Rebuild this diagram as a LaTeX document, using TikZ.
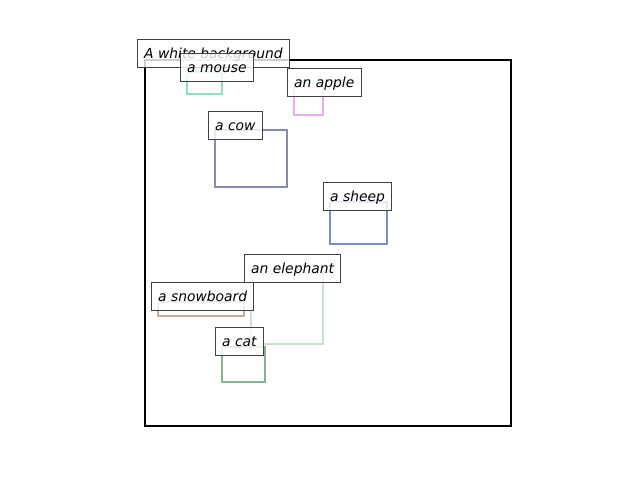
\documentclass[tikz,border=0pt]{standalone}
\usepackage{fontspec}
\setmainfont{DejaVu Sans}
\begin{document}
\begin{tikzpicture}[x=0.75pt,y=-0.75pt,
  lbl/.style={draw=black!75, line width=0.75pt, fill=white, fill opacity=0.8, text opacity=1,
    font=\fontsize{10.4}{12}\selectfont\itshape, anchor=south west,
    inner xsep=5pt, inner ysep=4.3pt, text height=9.7pt, text depth=2.4pt},
  obj/.style={line width=2.1pt},
  frame/.style={draw=black, line width=1.5pt}]
\useasboundingbox (0,0) rectangle (640,480);
\definecolor{cmouse}{RGB}{140,222,196}
\definecolor{capple}{RGB}{232,172,236}
\definecolor{ccow}{RGB}{136,140,170}
\definecolor{csheep}{RGB}{116,146,196}
\definecolor{celeph}{RGB}{202,226,204}
\definecolor{csnow}{RGB}{196,172,150}
\definecolor{ccat}{RGB}{130,180,146}
\node[frame, minimum width=366*0.75pt, minimum height=366*0.75pt, inner sep=0pt, anchor=north west] (bg) at (144,59) {};
\draw[obj, cmouse] (187,72) rectangle (222,94) coordinate (mouse);
\draw[obj, capple] (294,87) rectangle (323,115) coordinate (apple);
\draw[obj, ccow] (215,130) rectangle (287,187) coordinate (cow);
\draw[obj, csheep] (330,202) rectangle (387,244) coordinate (sheep);
\draw[obj, celeph] (251,274) rectangle (323,344) coordinate (eleph);
\draw[obj, csnow] (158,302) rectangle (244,316) coordinate (snow);
\draw[obj, ccat] (222,347) rectangle (265,382) coordinate (cat);
\node[lbl] (lbg) at (137,68) {A white background};
\node[lbl] (lmouse) at (180,82) {a mouse};
\node[lbl] (lapple) at (287,97) {an apple};
\node[lbl] (lcow) at (208,140) {a cow};
\node[lbl] (lsheep) at (323,211) {a sheep};
\node[lbl] (leleph) at (244,283) {an elephant};
\node[lbl] (lsnow) at (151,311) {a snowboard};
\node[lbl] (lcat) at (215,356) {a cat};
\end{tikzpicture}
\end{document}
